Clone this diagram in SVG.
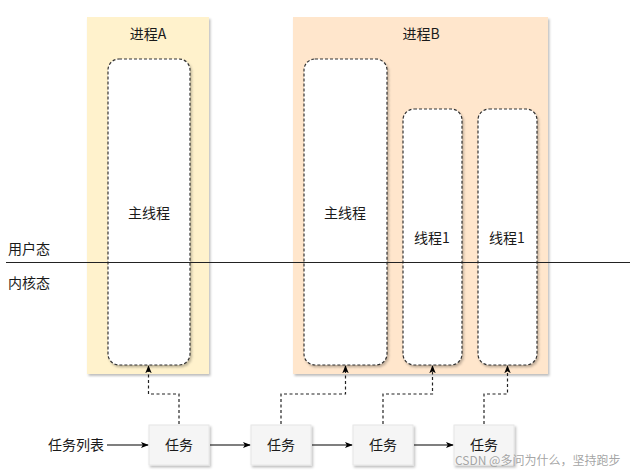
<svg xmlns="http://www.w3.org/2000/svg" width="632" height="474" viewBox="0 0 632 474">
<defs>
<filter id="sh" x="-20%" y="-20%" width="140%" height="140%">
<feDropShadow dx="1.5" dy="2" stdDeviation="1" flood-color="#000" flood-opacity="0.25"/>
</filter>
<marker id="ah" viewBox="0 0 10 10" refX="9" refY="5" markerWidth="8" markerHeight="8" markerUnits="userSpaceOnUse" orient="auto">
<path d="M0,1 L10,5 L0,9 L2.5,5 Z" fill="#000"/>
</marker>
</defs>
<style>
text{font-family:"Noto Sans CJK SC","Liberation Sans",sans-serif;font-size:14px;fill:#1a1a1a}
.c{text-anchor:middle}
.thr{fill:#fff;stroke:#333;stroke-width:1.2;stroke-dasharray:3 2;filter:url(#sh)}
.task{fill:#f5f5f5;stroke:#e6e6e6;stroke-width:1;filter:url(#sh)}
.dl{fill:none;stroke:#222;stroke-width:1.2;stroke-dasharray:3 2.5;marker-end:url(#ah)}
.sl{fill:none;stroke:#000;stroke-width:1.2;marker-end:url(#ah)}
</style>
<g id="processA">
<rect x="87" y="17" width="122" height="357" fill="#fff2cc" filter="url(#sh)"/>
<text class="c" x="148" y="39">进程A</text>
</g>
<g id="processB">
<rect x="293" y="17" width="255" height="357" fill="#ffe6cc" filter="url(#sh)"/>
<text class="c" x="421" y="39">进程B</text>
</g>
<g id="mainA">
<rect class="thr" x="108" y="59" width="82" height="306" rx="11"/>
<text class="c" x="149" y="218">主线程</text>
</g>
<g id="mainB">
<rect class="thr" x="304" y="59" width="83" height="306" rx="11"/>
<text class="c" x="345" y="218">主线程</text>
</g>
<g id="thread1a">
<rect class="thr" x="403" y="109" width="59" height="256" rx="11"/>
<text class="c" x="432" y="243">线程1</text>
</g>
<g id="thread1b">
<rect class="thr" x="478" y="109" width="59" height="256" rx="11"/>
<text class="c" x="507" y="243">线程1</text>
</g>
<g id="divider">
<line x1="6" y1="262.5" x2="630" y2="262.5" stroke="#222" stroke-width="1.2"/>
<text x="8" y="254">用户态</text>
<text x="8" y="288">内核态</text>
</g>
<g id="taskList">
<text x="48" y="450">任务列表</text>
</g>
<g id="task1"><rect class="task" x="149" y="425" width="60" height="40"/><text class="c" x="179" y="450">任务</text></g>
<g id="task2"><rect class="task" x="251" y="425" width="60" height="40"/><text class="c" x="281" y="450">任务</text></g>
<g id="task3"><rect class="task" x="353" y="425" width="60" height="40"/><text class="c" x="383" y="450">任务</text></g>
<g id="task4"><rect class="task" x="454" y="425" width="60" height="40"/><text class="c" x="484" y="450">任务</text></g>
<g id="connectors">
<path class="sl" d="M107,445 H148"/>
<path class="sl" d="M210,445 H250"/>
<path class="sl" d="M312,445 H352"/>
<path class="sl" d="M414,445 H453"/>
<path class="dl" d="M179,424 V394 H148.5 V366"/>
<path class="dl" d="M281,424 V394 H345.5 V366"/>
<path class="dl" d="M383,424 V394 H432.5 V366"/>
<path class="dl" d="M484,424 V394 H507.5 V366"/>
</g>
<text x="455" y="465" style="font-size:12px;fill:#9a9a9a;fill-opacity:0.9">CSDN @多问为什么，坚持跑步</text>
</svg>
